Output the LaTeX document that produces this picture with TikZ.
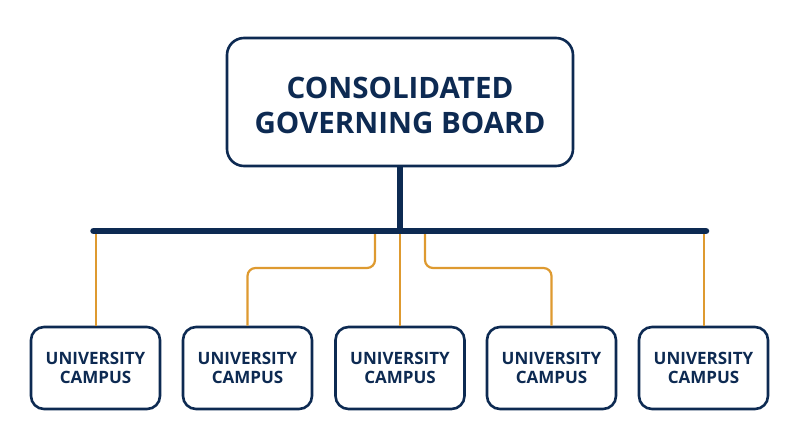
\documentclass[tikz,border=0pt]{standalone}
\usepackage{fontspec}
\setmainfont{Open Sans}
\definecolor{navy}{HTML}{0D2A52}
\definecolor{gold}{HTML}{DE9A30}
\begin{document}
\begin{tikzpicture}[x=1pt,y=-1pt,
  board/.style={draw=navy, line width=2.6pt, rounded corners=17pt, fill=white,
    minimum width=346pt, minimum height=128pt, align=center, text=navy,
    font=\fontsize{29.5}{35}\selectfont\bfseries, inner sep=0pt},
  campus/.style={draw=navy, line width=2.6pt, rounded corners=13pt, fill=white,
    minimum width=129pt, minimum height=82pt, align=center, text=navy,
    font=\fontsize{17}{18.5}\selectfont\bfseries, inner sep=0pt},
  trunk/.style={draw=navy, line width=6.5pt},
  branch/.style={draw=gold, line width=2.2pt, rounded corners=8pt}]
\useasboundingbox (0,0) rectangle (800,447);
\node[board] (top) at (400,102) {};
\node[text=navy, align=center, font=\fontsize{29.5}{35}\selectfont\bfseries, inner sep=0pt] (toptext) at (400,105) {CONSOLIDATED\\GOVERNING BOARD};
\coordinate (bl) at (93.5,231);
\coordinate (br) at (706,231);
\coordinate (bm) at (400,231);
\node[campus] (c1) at (95.5,368) {UNIVERSITY\\CAMPUS};
\node[campus] (c2) at (247.5,368) {UNIVERSITY\\CAMPUS};
\node[campus] (c3) at (400,368) {UNIVERSITY\\CAMPUS};
\node[campus] (c4) at (551.5,368) {UNIVERSITY\\CAMPUS};
\node[campus] (c5) at (703.5,368) {UNIVERSITY\\CAMPUS};
\draw[branch] (96,231) -- (c1.north -| 96,0);
\draw[branch] (375,231) -- (375,268) -- (247.5,268) -- (c2.north);
\draw[branch] (bm) -- (c3.north);
\draw[branch] (425,231) -- (425,268) -- (551.5,268) -- (c4.north);
\draw[branch] (704,231) -- (c5.north -| 704,0);
\draw[trunk] (top.south) -- (bm);
\draw[trunk, line cap=round] (bl) -- (br);
\end{tikzpicture}
\end{document}
